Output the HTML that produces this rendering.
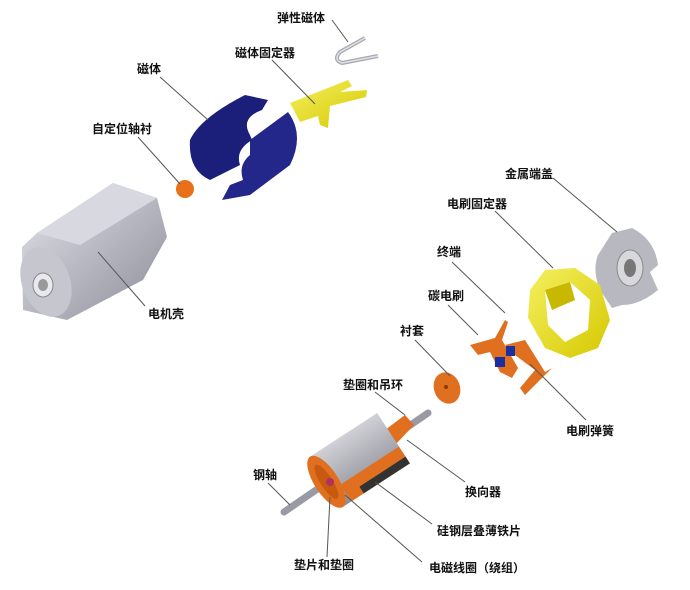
<!DOCTYPE html>
<html><head><meta charset="utf-8"><style>
html,body{margin:0;padding:0;background:#fff;}
svg{display:block}
text{font-family:"Liberation Sans","Noto Sans CJK SC",sans-serif;font-size:12px;font-weight:bold;fill:#111}
line{stroke:#555;stroke-width:1}
</style></head><body>
<svg width="690" height="590" viewBox="0 0 690 590" xmlns="http://www.w3.org/2000/svg">
<defs>
<linearGradient id="gs" x1="0" y1="0" x2="1" y2="1"><stop offset="0" stop-color="#e4e4ea"/><stop offset="0.5" stop-color="#b8b8c2"/><stop offset="1" stop-color="#8d8d98"/></linearGradient>
<linearGradient id="gy" x1="0" y1="0" x2="1" y2="1"><stop offset="0" stop-color="#f4f060"/><stop offset="1" stop-color="#d6c800"/></linearGradient>
<linearGradient id="gr" x1="0" y1="0" x2="0" y2="1"><stop offset="0" stop-color="#d0d0d6"/><stop offset="1" stop-color="#8e8e98"/></linearGradient>
</defs>
<!-- motor housing -->
<polygon points="22,247 37,233 113,183 157,198 167,237 143,280 67,320 23,310" fill="url(#gs)"/>
<polygon points="37,233 113,183 157,198 80,245" fill="#d8d8e0"/>
<ellipse cx="46" cy="282" rx="24" ry="36" transform="rotate(-20 46 282)" fill="#c6c6ce"/>
<ellipse cx="43" cy="285" rx="10" ry="12" fill="#e8e8ee" stroke="#888"/>
<ellipse cx="43" cy="285" rx="5" ry="6" fill="#999"/>
<!-- orange ball -->
<circle cx="185" cy="189" r="9" fill="#e8701a"/>
<!-- magnet -->
<path d="M190,140 Q200,118 245,95 L268,100 L262,110 Q240,118 250,135 L252,140 Q235,150 240,165 L210,180 Q188,170 190,140Z" fill="#1c1f7a"/>
<path d="M250,140 L288,112 Q305,135 290,165 L250,195 L222,200 L230,185 L243,180 Q238,165 250,155Z" fill="#23278a"/>
<!-- yellow holder -->
<path d="M290,103 L348,80 L352,86 L340,92 L367,90 L366,97 L330,106 L328,128 L320,125 L318,116 L300,122 Z" fill="url(#gy)"/>
<!-- U spring -->
<path d="M365,38 L340,52 Q333,60 342,63 L378,56" fill="none" stroke="#a8a8b2" stroke-width="4"/>
<path d="M365,38 L340,52 Q333,60 342,63 L378,56" fill="none" stroke="#e0e0e6" stroke-width="1.5"/>
<!-- end cap -->
<path d="M612,233 L632,228 Q655,240 658,265 L650,272 L658,290 Q640,305 622,305 L612,308 L600,290 Q592,270 598,255 Z" fill="#b8b8c0"/>
<ellipse cx="630" cy="268" rx="13" ry="18" fill="#d8d8dc" stroke="#888"/>
<ellipse cx="630" cy="268" rx="6" ry="9" fill="#777"/>
<!-- brush holder -->
<path d="M530,290 L545,270 L575,268 L600,285 L610,320 L598,348 L570,358 L545,348 L528,318 Z" fill="url(#gy)"/>
<path d="M545,290 L570,282 L590,300 L588,330 L565,342 L548,325 Z" fill="#fff"/>
<path d="M545,290 L570,282 L575,300 L552,310 Z" fill="#c8b800"/>
<!-- brushes -->
<path d="M505,320 L495,338 L470,345 L478,355 L490,352 L500,372 L512,378 L518,368 L502,340 L508,322Z" fill="#e07020"/>
<rect x="495" y="357" width="10" height="10" fill="#1c2fa0"/>
<path d="M505,345 L525,340 L545,372 L552,368 L525,395 L520,388 L535,370 L515,355 Z" fill="#e07020"/>
<rect x="506" y="346" width="9" height="10" fill="#1c2fa0"/>
<!-- bushing -->
<ellipse cx="447" cy="388" rx="13" ry="16" transform="rotate(-20 447 388)" fill="#e07020"/>
<circle cx="446" cy="387" r="2" fill="#8a3a00"/>
<!-- rotor shaft -->
<line x1="284" y1="512" x2="428" y2="413" style="stroke:#9a9aa4;stroke-width:7;stroke-linecap:round"/>
<!-- commutator -->
<path d="M385,430 L405,415 L414,425 L395,445 Z" fill="#e07020"/>
<!-- rotor body -->
<g transform="rotate(-33 360 460)">
<rect x="320" y="430" width="80" height="60" fill="url(#gr)"/>
<rect x="330" y="470" width="70" height="20" fill="#e07020"/>
<rect x="345" y="482" width="55" height="8" fill="#333"/>
<ellipse cx="320" cy="460" rx="12" ry="30" fill="#e07020"/>
<ellipse cx="320" cy="460" rx="6" ry="20" fill="#c85a10"/>
</g>
<circle cx="330" cy="482" r="4" fill="#b03060"/>
<!-- leader lines -->
<line x1="332" y1="20" x2="348" y2="42"/>
<line x1="272" y1="60" x2="315" y2="104"/>
<line x1="160" y1="77" x2="208" y2="120"/>
<line x1="138" y1="137" x2="180" y2="184"/>
<line x1="98" y1="252" x2="145" y2="306"/>
<line x1="553" y1="178" x2="617" y2="232"/>
<line x1="495" y1="211" x2="553" y2="268"/>
<line x1="452" y1="262" x2="505" y2="313"/>
<line x1="448" y1="305" x2="478" y2="335"/>
<line x1="415" y1="340" x2="450" y2="376"/>
<line x1="375" y1="392" x2="405" y2="415"/>
<line x1="530" y1="364" x2="586" y2="420"/>
<line x1="407" y1="440" x2="465" y2="482"/>
<line x1="268" y1="483" x2="290" y2="505"/>
<line x1="375" y1="482" x2="432" y2="524"/>
<line x1="330" y1="497" x2="327" y2="557"/>
<line x1="345" y1="495" x2="422" y2="562"/>
<!-- labels -->
<text x="277" y="22">弹性磁体</text>
<text x="235" y="57">磁体固定器</text>
<text x="137" y="73">磁体</text>
<text x="92" y="133">自定位轴衬</text>
<text x="148" y="318">电机壳</text>
<text x="505" y="178">金属端盖</text>
<text x="447" y="208">电刷固定器</text>
<text x="437" y="256">终端</text>
<text x="428" y="300">碳电刷</text>
<text x="400" y="335">衬套</text>
<text x="343" y="389">垫圈和吊环</text>
<text x="566" y="435">电刷弹簧</text>
<text x="465" y="496">换向器</text>
<text x="253" y="479">钢轴</text>
<text x="437" y="535">硅钢层叠薄铁片</text>
<text x="294" y="569">垫片和垫圈</text>
<text x="429" y="572">电磁线圈（绕组）</text>
</svg>
</body></html>
